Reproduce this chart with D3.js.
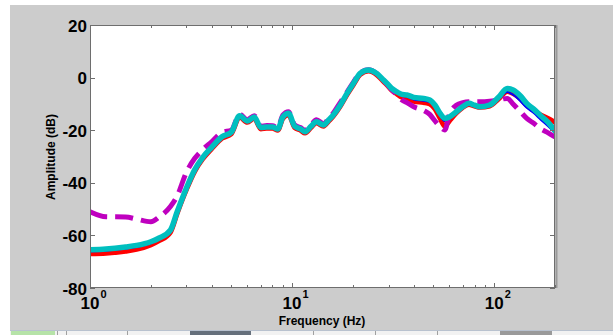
<!DOCTYPE html>
<html>
<head>
<meta charset="utf-8">
<script src="https://cdn.jsdelivr.net/npm/d3@7"></script>
<style>
html,body{margin:0;padding:0;background:#fff;}
svg{display:block;font-family:"Liberation Sans",Arial,sans-serif;}
</style>
</head>
<body>
<svg id="chart" width="613" height="335"></svg>
<script>
// ---- data ----
const freq = [1, 1.2, 1.5, 1.7, 2.0, 2.2, 2.5, 2.7, 3.0, 3.3, 3.6, 4.0, 4.5, 5.0, 5.5, 6.0, 6.5, 7.0, 7.5, 8.0, 8.5, 9.0, 9.6, 10.3, 11.0, 11.6, 12.4, 13.2, 14.3, 15.2, 16.0, 17.3, 18.7, 20.2, 21.7, 23.9, 26.2, 28, 29.5, 31, 33, 35, 37, 40, 44.7, 48, 51, 54, 57, 60, 65, 70, 75, 80, 85, 95, 105, 116, 124, 135, 145, 157, 170, 185, 200];

const cyanVals = [-65.5, -65.2, -64.4, -63.8, -62.4, -61.0, -58.0, -51, -42, -35, -30.5, -26.5, -22.5, -20.8, -14.5, -16.5, -15.0, -19.0, -18.8, -18.8, -19.5, -15.0, -13.6, -18.5, -19.5, -20.6, -18.5, -16.8, -18.0, -16.0, -14.2, -10.5, -6.0, -2.0, 1.6, 2.9, 1.6, -0.5, -2.2, -4, -5.4, -6.4, -6.6, -7.5, -7.9, -8.5, -10.5, -13.6, -15.5, -15, -13, -11, -9.8, -10.5, -11.1, -10.4, -7.5, -4.1, -4.7, -7, -9.8, -12, -14.5, -17, -20.3];

const redVals = [-67, -66.8, -66, -65.3, -63.6, -62, -58.8, -51.6, -42.6, -35.6, -31.1, -27.1, -23.1, -21.4, -15.0, -17.0, -15.5, -19.5, -19.3, -19.3, -20.0, -15.5, -14.1, -19.0, -20.0, -21.1, -19.0, -17.3, -18.5, -16.5, -14.7, -11.0, -6.5, -2.5, 1.1, 2.5, 1.1, -1.1, -2.8, -4.7, -6.2, -7.5, -8.2, -9, -9.5, -10, -12, -15.5, -18.5, -16.5, -13.5, -11.3, -10.2, -10.8, -11.3, -10.8, -8.2, -5.3, -6, -8, -10.5, -12.5, -14.2, -15.5, -17];

const blueVals = [-66, -65.8, -65, -64.4, -63, -61.5, -58.5, -51.5, -42.5, -35.5, -31, -27, -23, -21.2, -14.9, -16.9, -15.4, -19.4, -19.2, -19.2, -19.9, -15.4, -14, -18.9, -19.9, -21, -18.9, -17.2, -18.4, -16.4, -14.6, -10.9, -6.4, -2.4, 1.3, 2.7, 1.3, -0.9, -2.6, -4.4, -5.8, -6.9, -7.3, -8.3, -8.8, -9.3, -11.3, -14.6, -16.5, -15.6, -13.3, -11.2, -10.1, -10.7, -11.2, -10.7, -8, -5.5, -6.5, -9, -11.5, -13.5, -16, -18.5, -21];

const magentaVals = [-51, -52.9, -53, -53.8, -54.8, -53, -49, -45, -36, -30.7, -27.5, -24.4, -20.8, -20, -14, -16, -14.5, -18.5, -18.2, -18.3, -19, -14.3, -13, -18, -19, -20, -18, -16, -17.5, -15.5, -13.5, -9.5, -5.5, -1.5, 1.8, 3, 1.6, -0.7, -2.5, -4.5, -6.5, -8.5, -9.5, -11.1, -12.5, -14, -16.5, -18.7, -19.9, -14, -10.5, -9.5, -9.2, -9.2, -9.2, -9, -8.5, -7.9, -10, -13, -15.5, -17.4, -19.5, -21, -22.6];

const yTicks = [20, 0, -20, -40, -60, -80];
const xMajorTicks = [1, 10, 100];
const xMajorExp = ["0", "1", "2"];

// ---- layout ----
const svg = d3.select("#chart");
const L = 90, R = 555, T = 25, B = 288;

// background
svg.append("rect").attr("x", 10).attr("y", 5).attr("width", 603).attr("height", 326).attr("fill", "#cccccc");
// bottom strip (window taskbar)
const strip = svg.append("g");
strip.append("rect").attr("x", 10).attr("y", 331).attr("width", 603).attr("height", 4).attr("fill", "#f2f2f2");
strip.append("line").attr("x1", 10).attr("x2", 613).attr("y1", 330.5).attr("y2", 330.5).attr("stroke", "#b9c2cf");
strip.append("rect").attr("x", 11).attr("y", 331).attr("width", 44).attr("height", 4).attr("fill", "#b6e3a8");
strip.append("rect").attr("x", 190).attr("y", 331).attr("width", 61).attr("height", 4).attr("fill", "#66707c");
strip.append("rect").attr("x", 500).attr("y", 331).attr("width", 52).attr("height", 4).attr("fill", "#9a9a9a");
[57, 66, 127, 313, 375, 437].forEach(x => strip.append("line").attr("x1", x + 0.5).attr("x2", x + 0.5).attr("y1", 331).attr("y2", 335).attr("stroke", "#a0a0a0"));

// plot area
svg.append("rect").attr("x", L).attr("y", T).attr("width", R - L).attr("height", B - T).attr("fill", "#ffffff");

const x = d3.scaleLog().domain([1, 200]).range([L, R]);
const y = d3.scaleLinear().domain([-80, 20]).range([B, T]);

svg.append("clipPath").attr("id", "clip").append("rect")
  .attr("x", L).attr("y", T).attr("width", R - L).attr("height", B - T);

const line = d3.line().x((d, i) => x(freq[i])).y(d => y(d)).curve(d3.curveMonotoneX);

const g = svg.append("g").attr("clip-path", "url(#clip)");
const series = [
  {vals: redVals, color: "#ff0000", w: 5, dash: null},
  {vals: blueVals, color: "#0000ff", w: 2, dash: null},
  {vals: magentaVals, color: "#bf00bf", w: 5, dash: "18,8"},
  {vals: cyanVals, color: "#00bfbf", w: 5.5, dash: null}
];
series.forEach(s => {
  g.append("path").attr("d", line(s.vals)).attr("fill", "none")
    .attr("stroke", s.color).attr("stroke-width", s.w)
    .attr("stroke-linejoin", "round")
    .attr("stroke-linecap", s.dash ? "butt" : "round")
    .attr("stroke-dasharray", s.dash);
});

// axes box
const axisColor = "#6e6e6e";
svg.append("rect").attr("x", L + 0.5).attr("y", T + 0.5).attr("width", R - L - 1).attr("height", B - T - 1)
  .attr("fill", "none").attr("stroke", axisColor).attr("stroke-width", 1);
svg.append("line").attr("x1", R + 1.5).attr("x2", R + 1.5).attr("y1", T).attr("y2", B).attr("stroke", "#9a9a9a").attr("stroke-width", 2);

// x ticks (log: majors + minors)
const xTickVals = x.ticks().filter(v => v >= 1 && v <= 200);
xTickVals.forEach(v => {
  const major = xMajorTicks.includes(v);
  const len = major ? 5 : 3;
  const px = Math.round(x(v)) + 0.5;
  svg.append("line").attr("x1", px).attr("x2", px).attr("y1", B).attr("y2", B - len).attr("stroke", axisColor);
  svg.append("line").attr("x1", px).attr("x2", px).attr("y1", T).attr("y2", T + len).attr("stroke", axisColor);
});

// y ticks
yTicks.forEach(v => {
  const py = Math.round(y(v)) + 0.5;
  svg.append("line").attr("x1", L).attr("x2", L + 5).attr("y1", py).attr("y2", py).attr("stroke", axisColor);
  svg.append("line").attr("x1", R).attr("x2", R - 5).attr("y1", py).attr("y2", py).attr("stroke", axisColor);
  svg.append("text").attr("x", 87).attr("y", y(v) + 6.5).attr("text-anchor", "end")
    .attr("font-size", 17).attr("font-weight", "bold").attr("fill", "#000").text(String(v));
});

// x tick labels 10^n
xMajorTicks.forEach((v, i) => {
  const px = x(v);
  svg.append("text").attr("x", px).attr("y", 309).attr("text-anchor", "middle")
    .attr("font-size", 17).attr("font-weight", "bold").attr("fill", "#000").text("10");
  svg.append("text").attr("x", px + 10.5).attr("y", 298).attr("text-anchor", "start")
    .attr("font-size", 11).attr("font-weight", "bold").attr("fill", "#000").text(xMajorExp[i]);
});

// axis titles
svg.append("text").attr("x", 322).attr("y", 325).attr("text-anchor", "middle")
  .attr("font-size", 12).attr("font-weight", "bold").attr("fill", "#000").text("Frequency (Hz)");
svg.append("text").attr("transform", "translate(55,157) rotate(-90)").attr("text-anchor", "middle")
  .attr("font-size", 12).attr("font-weight", "bold").attr("fill", "#000").text("Amplitude (dB)");
</script>
</body>
</html>
